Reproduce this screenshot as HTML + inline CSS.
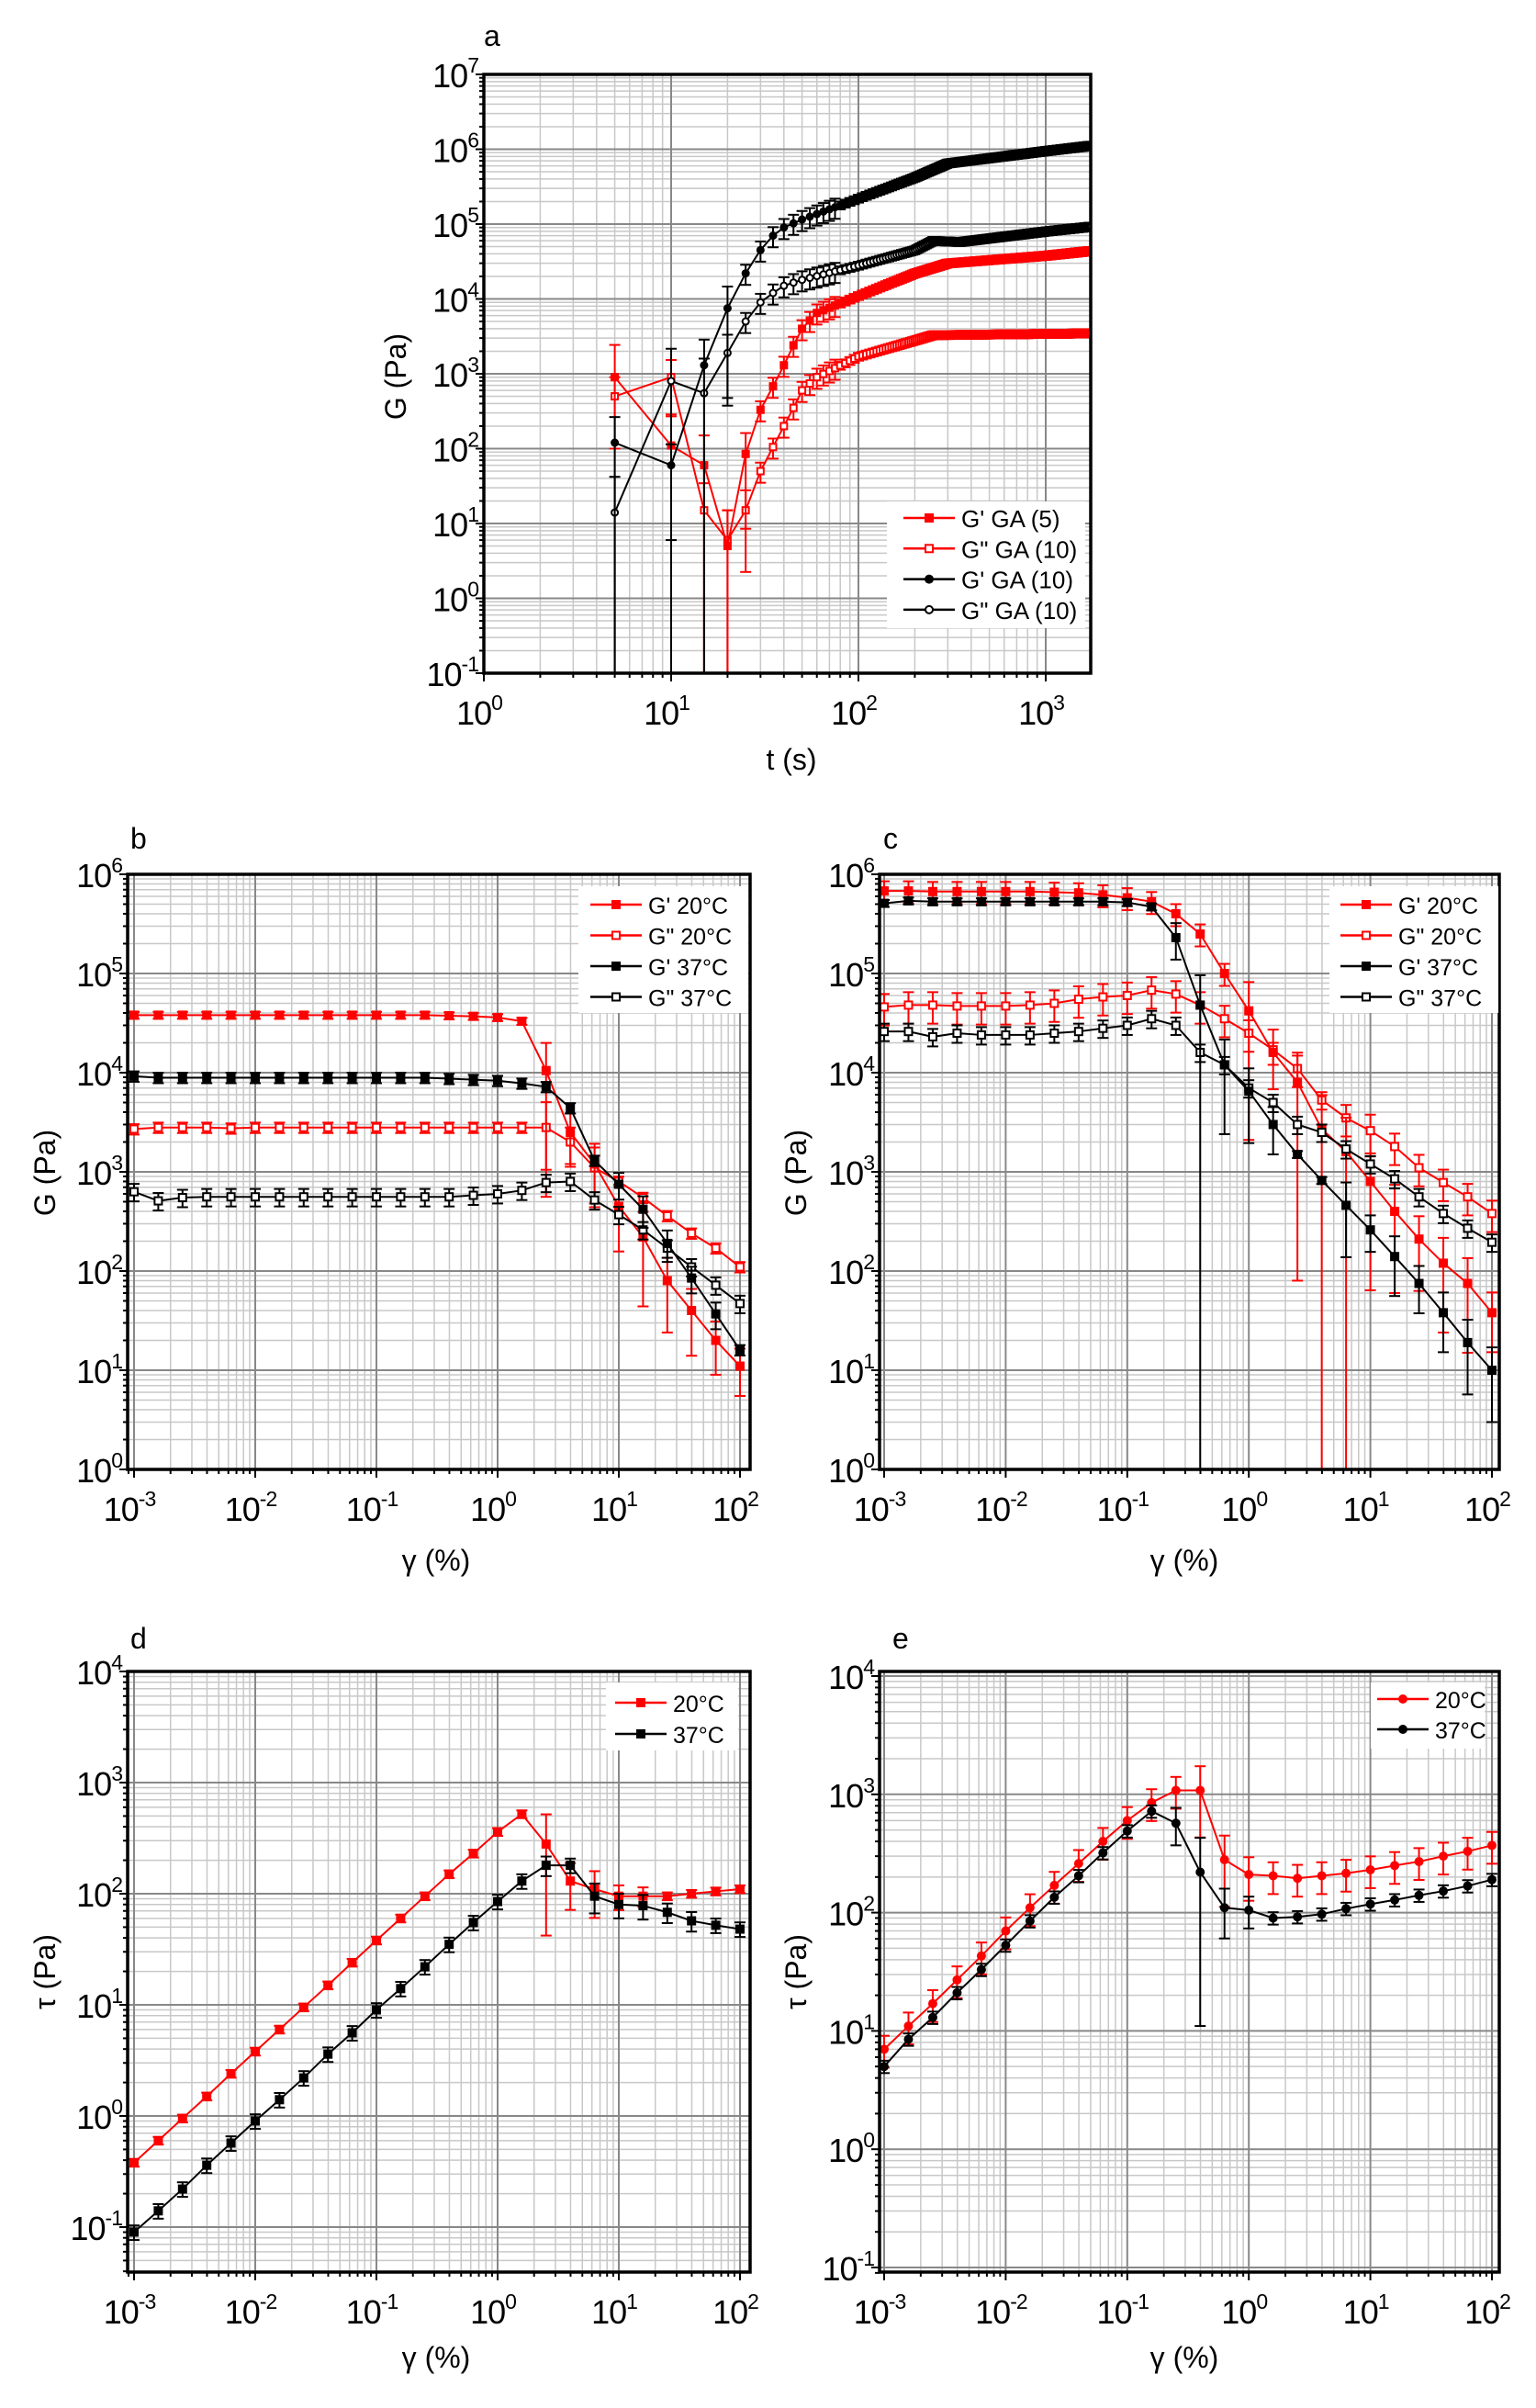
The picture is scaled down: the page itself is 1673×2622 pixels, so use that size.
<!DOCTYPE html>
<html><head><meta charset="utf-8"><style>
html,body{margin:0;padding:0;background:#fff;}
svg{display:block;font-family:"Liberation Sans",Arial,sans-serif;}
</style></head><body>
<svg id="s" width="1673" height="2622" viewBox="0 0 1673 2622" xmlns="http://www.w3.org/2000/svg"></svg>
<script>
const S=document.getElementById('s');let out='';
function add(t){out+=t;}
function L(x){return Math.log10(x);}
function mk(p){
 p.X=v=>p.x0+(L(v)-p.lx0)/(p.lx1-p.lx0)*(p.x1-p.x0);
 p.Y=v=>p.y0+(p.ly0-L(v))/(p.ly0-p.ly1)*(p.y1-p.y0);
 return p;}
function grid(p){
 let cid='c'+p.id;
 add(`<clipPath id="${cid}"><rect x="${p.x0}" y="${p.y0}" width="${p.x1-p.x0}" height="${p.y1-p.y0}"/></clipPath>`);
 add(`<g clip-path="url(#${cid})">`);
 for(let d=Math.floor(p.lx0)-1;d<=Math.ceil(p.lx1);d++)for(let k=2;k<10;k++){let x=p.X(k*Math.pow(10,d));if(x>p.x0&&x<p.x1)add(`<line x1="${x}" y1="${p.y0}" x2="${x}" y2="${p.y1}" stroke="#c8c8c8" stroke-width="1.5"/>`);}
 for(let d=Math.floor(p.ly1)-1;d<=Math.ceil(p.ly0);d++)for(let k=2;k<10;k++){let y=p.Y(k*Math.pow(10,d));if(y>p.y0&&y<p.y1)add(`<line x1="${p.x0}" y1="${y}" x2="${p.x1}" y2="${y}" stroke="#c8c8c8" stroke-width="1.5"/>`);}
 for(let d=Math.ceil(p.lx0);d<=Math.floor(p.lx1);d++){let x=p.X(Math.pow(10,d));add(`<line x1="${x}" y1="${p.y0}" x2="${x}" y2="${p.y1}" stroke="#888" stroke-width="2"/>`);}
 for(let d=Math.ceil(p.ly1);d<=Math.floor(p.ly0);d++){let y=p.Y(Math.pow(10,d));add(`<line x1="${p.x0}" y1="${y}" x2="${p.x1}" y2="${y}" stroke="#888" stroke-width="2"/>`);}
 add('</g>');
 for(let d=Math.ceil(p.lx0-0.01);d<=Math.floor(p.lx1+0.01);d++){let x=p.X(Math.pow(10,d));
  add(`<text x="${x-5}" y="${p.y1+56}" font-size="36" text-anchor="middle" fill="#000" letter-spacing="-1">10<tspan dy="-16" font-size="23">${d}</tspan></text>`);}
 for(let d=Math.ceil(p.ly1-0.01);d<=Math.floor(p.ly0+0.05);d++){let y=p.Y(Math.pow(10,d));
  add(`<text x="${p.x0-6}" y="${y+14}" font-size="36" text-anchor="end" fill="#000" letter-spacing="-1">10<tspan dy="-16" font-size="23">${d}</tspan></text>`);}
}
function frame(p){add(`<rect x="${p.x0}" y="${p.y0}" width="${p.x1-p.x0}" height="${p.y1-p.y0}" fill="none" stroke="#000" stroke-width="3.5"/>`);
 for(let d=Math.floor(p.lx0)-1;d<=Math.ceil(p.lx1);d++)for(let k=1;k<10;k++){let x=p.X(k*Math.pow(10,d));if(x>=p.x0-1&&x<=p.x1+1)add(`<line x1="${x}" y1="${p.y1}" x2="${x}" y2="${p.y1+(k==1?9:5)}" stroke="#000" stroke-width="2"/>`);}
 for(let d=Math.floor(p.ly1)-1;d<=Math.ceil(p.ly0);d++)for(let k=1;k<10;k++){let y=p.Y(k*Math.pow(10,d));if(y>=p.y0-1&&y<=p.y1+1)add(`<line x1="${p.x0}" y1="${y}" x2="${p.x0-(k==1?9:5)}" y2="${y}" stroke="#000" stroke-width="2"/>`);}
}
function marker(x,y,m,c,sz){sz=sz||11;let h=sz/2;
 if(m=='fs')return `<rect x="${x-h}" y="${y-h}" width="${sz}" height="${sz}" fill="${c}"/>`;
 if(m=='os')return `<rect x="${x-h+1}" y="${y-h+1}" width="${sz-2}" height="${sz-2}" fill="#fff" stroke="${c}" stroke-width="2"/>`;
 if(m=='fc')return `<circle cx="${x}" cy="${y}" r="${h}" fill="${c}"/>`;
 if(m=='oc')return `<circle cx="${x}" cy="${y}" r="${h-1}" fill="#fff" stroke="${c}" stroke-width="2"/>`;}
function series(p,xs,ys,c,m,err,sz){
 let pts=xs.map((x,i)=>[p.X(x),p.Y(ys[i])]);
 add(`<g clip-path="url(#c${p.id})">`);
 xs.forEach((x,i)=>{let e=err?err(i):0;if(!e)return;let yv=ys[i];let hi=p.Y(yv*(1+e)),lo=yv*(1-e)>0?p.Y(yv*(1-e)):p.y1+5;let X=pts[i][0];
  add(`<line x1="${X}" y1="${hi}" x2="${X}" y2="${lo}" stroke="${c}" stroke-width="2"/><line x1="${X-6}" y1="${hi}" x2="${X+6}" y2="${hi}" stroke="${c}" stroke-width="2"/><line x1="${X-6}" y1="${lo}" x2="${X+6}" y2="${lo}" stroke="${c}" stroke-width="2"/>`);});
 add(`<polyline points="${pts.map(q=>q.join(',')).join(' ')}" fill="none" stroke="${c}" stroke-width="2"/>`);
 pts.forEach(q=>add(marker(q[0],q[1],m,c,sz)));
 add('</g>');}
function interp(knots,t){for(let i=0;i<knots.length-1;i++){let a=knots[i],b=knots[i+1];if(t>=a[0]&&t<=b[0]){let f=(L(t)-L(a[0]))/(L(b[0])-L(a[0]));return Math.pow(10,L(a[1])+f*(L(b[1])-L(a[1])));}}return knots[knots.length-1][1];}
function legend(x,y,w,h,items,lx,fs,dy){add(`<rect x="${x}" y="${y}" width="${w}" height="${h}" fill="#fff"/>`);
 items.forEach((it,i)=>{let yy=y+dy[0]+i*dy[1];add(`<line x1="${lx}" y1="${yy}" x2="${lx+56}" y2="${yy}" stroke="${it[1]}" stroke-width="2.5"/>`+marker(lx+28,yy,it[2],it[1],10)+`<text x="${lx+63}" y="${yy+10}" font-size="${fs}" fill="#000">${it[0]}</text>`);});}
const R='#ff0000',K='#000000';
let a=mk({id:'a',x0:527,x1:1188,lx0:0,lx1:661/204,y0:81,y1:733,ly0:7,ly1:-1});
grid(a);
let t=[];for(let v=5;v<=1750;v+=5)t.push(v);
let kGp=[[5,120],[10,60],[15,1300],[20,7500],[25,22000],[30,45000],[35,70000],[40,90000],[50,115000],[100,220000],[200,420000],[300,650000],[1000,950000],[1900,1150000]];
let kGpp=[[5,14],[10,800],[15,550],[20,1900],[25,5000],[30,9000],[35,12000],[40,15000],[50,18000],[100,28000],[200,45000],[250,60000],[350,58000],[1000,80000],[1900,95000]];
let rGp=[[5,900],[10,110],[15,60],[20,5],[25,85],[30,330],[35,680],[40,1300],[45,2400],[50,4000],[60,6500],[100,11000],[200,22000],[300,30000],[1000,38000],[1900,45000]];
let rGpp=[[5,500],[10,900],[15,15],[20,6],[25,15],[30,50],[35,105],[40,200],[45,350],[50,600],[60,900],[100,1700],[200,2800],[250,3300],[1900,3500]];
function eA(bigs){return i=>{let tt=t[i];if(bigs[tt]!==undefined)return bigs[tt];return tt<80?0.3:0.12;}}
series(a,t,t.map(v=>interp(rGpp,v)),R,'os',eA({5:0.8,10:0.7,15:1.3,20:1.5,25:0.85}),9);
series(a,t,t.map(v=>interp(rGp,v)),R,'fs',eA({5:1.7,10:1.6,15:1.5,20:2,25:0.9}),9);
series(a,t,t.map(v=>interp(kGpp,v)),K,'oc',eA({5:2,10:1.7,15:1.9,20:0.75}),9);
series(a,t,t.map(v=>interp(kGp,v)),K,'fc',eA({5:1.2,10:0.9,15:1.2,20:0.95}),9);
frame(a);
legend(966,546,216,138,[["G' GA (5)",R,'fs'],['G" GA (10)',R,'os'],["G' GA (10)",K,'fc'],['G" GA (10)',K,'oc']],984,26,[18,33.3]);
add(`<text x="527" y="50" font-size="32">a</text>`);
add(`<text x="862" y="838" font-size="32" text-anchor="middle">t (s)</text>`);
add(`<text transform="translate(442,410) rotate(-90)" font-size="32" text-anchor="middle">G (Pa)</text>`);
let g=[];for(let i=0;i<26;i++)g.push(Math.pow(10,-3+0.2*i));
let b=mk({id:'b',x0:139,x1:817,lx0:-3-7/132,lx1:-3+671/132,y0:952,y1:1600,ly0:6,ly1:0});
let c=mk({id:'c',x0:958,x1:1633,lx0:-3-5/132.4,lx1:-3+670/132.4,y0:952,y1:1600,ly0:6,ly1:0});
let d=mk({id:'d',x0:139,x1:817,lx0:-3-7/132,lx1:-3+671/132,y0:1820,y1:2474,ly0:4,ly1:4-654/121});
let e=mk({id:'e',x0:958,x1:1633,lx0:-3-5/132.4,lx1:-3+670/132.4,y0:1820,y1:2474,ly0:4+5/128.8,ly1:4-649/128.8});
function ef(base,bigs){return i=>bigs[i]!==undefined?bigs[i]:base;}
grid(b);
let bG1=[38000,38000,38000,38000,38000,38000,38000,38000,38000,38000,38000,38000,38000,37500,37000,36000,33000,10500,2500,1200,450,220,80,40,20,11];
let bG2=[2700,2800,2800,2800,2750,2800,2800,2800,2800,2800,2800,2800,2800,2800,2800,2800,2800,2800,2000,1100,800,550,360,240,170,110];
let bK1=[9200,8900,8900,8900,8900,8900,8900,8900,8900,8900,8900,8900,8900,8700,8500,8300,7800,7200,4400,1300,750,420,190,85,37,16];
let bK2=[630,510,550,560,560,560,560,560,560,560,560,560,560,560,580,600,650,780,800,520,370,260,170,110,72,47];
series(b,g,bG2,R,'os',ef(0.12,{17:0.8,18:0.4,19:0.6}),10);
series(b,g,bG1,R,'fs',ef(0.08,{17:0.9,18:0.55,19:0.6,20:0.65,21:0.8,22:0.7,23:0.65,24:0.55,25:0.5}),10);
series(b,g,bK2,K,'os',ef(0.2,{}),10);
series(b,g,bK1,K,'fs',ef(0.12,{20:0.3,21:0.35,22:0.35,23:0.3,24:0.3}),10);
frame(b);
legend(630,965,185,138,[["G' 20°C",R,'fs'],['G" 20°C',R,'os'],["G' 37°C",K,'fs'],['G" 37°C',K,'os']],643,25,[20,33.5]);
add(`<text x="142" y="924" font-size="32">b</text>`);
add(`<text x="475" y="1710" font-size="32" text-anchor="middle">γ (%)</text>`);
add(`<text transform="translate(60,1277) rotate(-90)" font-size="32" text-anchor="middle">G (Pa)</text>`);
grid(c);
let cG1=[680000,680000,670000,670000,670000,670000,670000,660000,650000,620000,580000,530000,400000,250000,100000,42000,16000,8000,2700,1600,800,400,210,120,75,38];
let cG2=[46000,48000,48000,47000,47000,47000,48000,50000,55000,58000,60000,68000,62000,48000,35000,25000,17000,11000,5300,3500,2600,1800,1100,780,560,380];
let cK1=[510000,540000,530000,530000,530000,530000,530000,530000,530000,530000,520000,470000,230000,48000,12000,6500,3000,1500,820,460,260,140,75,38,19,10];
let cK2=[26000,26000,23000,25000,24000,24000,24000,25000,26000,28000,30000,35000,30000,16000,12000,7000,5000,3000,2500,1700,1200,850,560,380,270,195];
series(c,g,cG2,R,'os',ef(0.35,{16:0.6,18:0.2,20:0.45}),10);
series(c,g,cG1,R,'fs',ef(0.25,{15:0.95,17:0.99,18:1.2,19:1.2,20:0.92,21:0.85,22:0.7,23:0.8,24:0.8,25:0.6}),10);
series(c,g,cK2,K,'os',ef(0.2,{}),10);
series(c,g,cK1,K,'fs',ef(0.08,{12:0.4,13:1,14:0.8,15:0.7,16:0.5,19:0.7,20:0.4,21:0.6,22:0.5,23:0.6,24:0.7,25:0.7}),10);
frame(c);
legend(1448,965,184,138,[["G' 20°C",R,'fs'],['G" 20°C',R,'os'],["G' 37°C",K,'fs'],['G" 37°C',K,'os']],1460,25,[20,33.5]);
add(`<text x="962" y="924" font-size="32">c</text>`);
add(`<text x="1290" y="1710" font-size="32" text-anchor="middle">γ (%)</text>`);
add(`<text transform="translate(878,1277) rotate(-90)" font-size="32" text-anchor="middle">G (Pa)</text>`);
grid(d);
let dR=[0.38,0.6,0.95,1.5,2.4,3.8,6,9.5,15,24,38,60,95,150,230,360,520,280,130,110,95,95,95,100,105,110];
let dK=[0.09,0.14,0.22,0.36,0.57,0.9,1.4,2.2,3.6,5.6,9,14,22,35,55,85,130,180,180,95,80,78,68,57,52,48];
series(d,g,dR,R,'fs',ef(0.08,{17:0.85,18:0.45,19:0.45,20:0.25,21:0.2}),10);
series(d,g,dK,K,'fs',ef(0.15,{17:0.2,19:0.3,20:0.25,21:0.25,22:0.2,23:0.2}),10);
frame(d);
legend(660,1832,144,74,[["20°C",R,'fs'],["37°C",K,'fs']],670,25,[22,34]);
add(`<text x="142" y="1795" font-size="32">d</text>`);
add(`<text x="475" y="2578" font-size="32" text-anchor="middle">γ (%)</text>`);
add(`<text transform="translate(60,2147) rotate(-90)" font-size="32" text-anchor="middle">τ (Pa)</text>`);
grid(e);
let eR=[7,11,17,27,43,70,110,170,260,400,600,850,1080,1080,280,210,205,195,205,215,230,250,270,300,330,370];
let eK=[5,8.5,13,21,33,53,85,135,205,320,490,720,570,220,110,105,90,92,97,108,118,128,140,152,168,190];
series(e,g,eR,R,'fc',ef(0.3,{13:0.6,14:0.6,15:0.4}),10);
series(e,g,eK,K,'fc',ef(0.12,{12:0.35,13:0.95,14:0.45,15:0.3}),10);
frame(e);
legend(1493,1832,124,72,[["20°C",R,'fc'],["37°C",K,'fc']],1500,25,[18,33]);
add(`<text x="972" y="1795" font-size="32">e</text>`);
add(`<text x="1290" y="2578" font-size="32" text-anchor="middle">γ (%)</text>`);
add(`<text transform="translate(878,2147) rotate(-90)" font-size="32" text-anchor="middle">τ (Pa)</text>`);
S.innerHTML=out;
</script>
</body></html>
